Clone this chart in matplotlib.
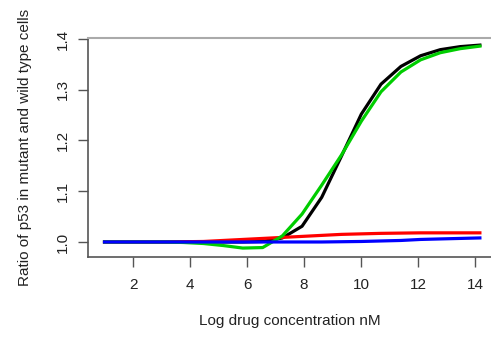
import matplotlib
matplotlib.use("Agg")
import matplotlib.pyplot as plt

plt.rcParams['font.family'] = ['Liberation Sans', 'DejaVu Sans']

# log drug concentration (doubling steps)
log_conc = [1.00, 1.69, 2.39, 3.08, 3.77, 4.47, 5.16, 5.85, 6.55, 7.24,
            7.93, 8.62, 9.32, 10.01, 10.70, 11.40, 12.09, 12.78, 13.48, 14.17]

ratio_black = [1.000, 1.000, 1.000, 1.000, 1.000, 1.000, 1.000, 1.000, 1.001, 1.008,
               1.031, 1.088, 1.170, 1.252, 1.311, 1.346, 1.367, 1.379, 1.385, 1.388]
ratio_red = [1.000, 1.000, 1.000, 1.000, 1.0005, 1.001, 1.003, 1.005, 1.007, 1.009,
             1.011, 1.013, 1.015, 1.016, 1.017, 1.0175, 1.018, 1.018, 1.018, 1.018]
ratio_green = [1.000, 1.000, 1.000, 1.000, 0.999, 0.997, 0.993, 0.988, 0.989, 1.012,
               1.055, 1.112, 1.172, 1.238, 1.296, 1.335, 1.359, 1.373, 1.381, 1.386]
ratio_blue = [1.000, 1.000, 1.000, 1.000, 1.000, 1.000, 1.000, 1.000, 1.000, 1.000,
              1.000, 1.000, 1.0005, 1.001, 1.002, 1.003, 1.005, 1.006, 1.007, 1.008]

x_ticks = [2, 4, 6, 8, 10, 12, 14]
y_ticks = [1.0, 1.1, 1.2, 1.3, 1.4]

fig = plt.figure(figsize=(4.91, 3.41), dpi=100)
ax = fig.add_axes([88 / 491, 1 - 257 / 341, 1 - 88 / 491, (257 - 38) / 341])

lw = 2.3
ax.plot(log_conc, ratio_black, color='black', lw=lw)
ax.plot(log_conc, ratio_red, color='#ff0000', lw=lw)
ax.plot(log_conc, ratio_green, color='#00cd00', lw=lw)
ax.plot(log_conc, ratio_blue, color='#0000ff', lw=lw)

ax.set_xlim(0.42, 14.56)
ax.set_ylim(0.9704, 1.402)

ax.spines['right'].set_visible(False)
ax.spines['top'].set_color('#aaaaaa')
ax.spines['top'].set_linewidth(1.5)
for s in ('left', 'bottom'):
    ax.spines[s].set_color('#555555')
    ax.spines[s].set_linewidth(1.2)

ax.set_xticks(x_ticks)
ax.set_xticklabels([str(v) for v in x_ticks])
ax.set_yticks(y_ticks)
ax.set_yticklabels([f"{v:.1f}" for v in y_ticks], rotation=90, va='center')
ax.tick_params(axis='both', direction='out', length=7, width=1.0,
               color='#555555', labelsize=11, labelcolor='#222222')
ax.tick_params(axis='x', pad=8)
ax.tick_params(axis='y', pad=6)

ax.set_xlabel("Log drug concentration nM", fontsize=11, color='#222222', labelpad=16)
ax.set_ylabel("Ratio of p53 in mutant and wild type cells", fontsize=11,
              color='#222222', labelpad=17)

fig.savefig("out.png", dpi=100)
